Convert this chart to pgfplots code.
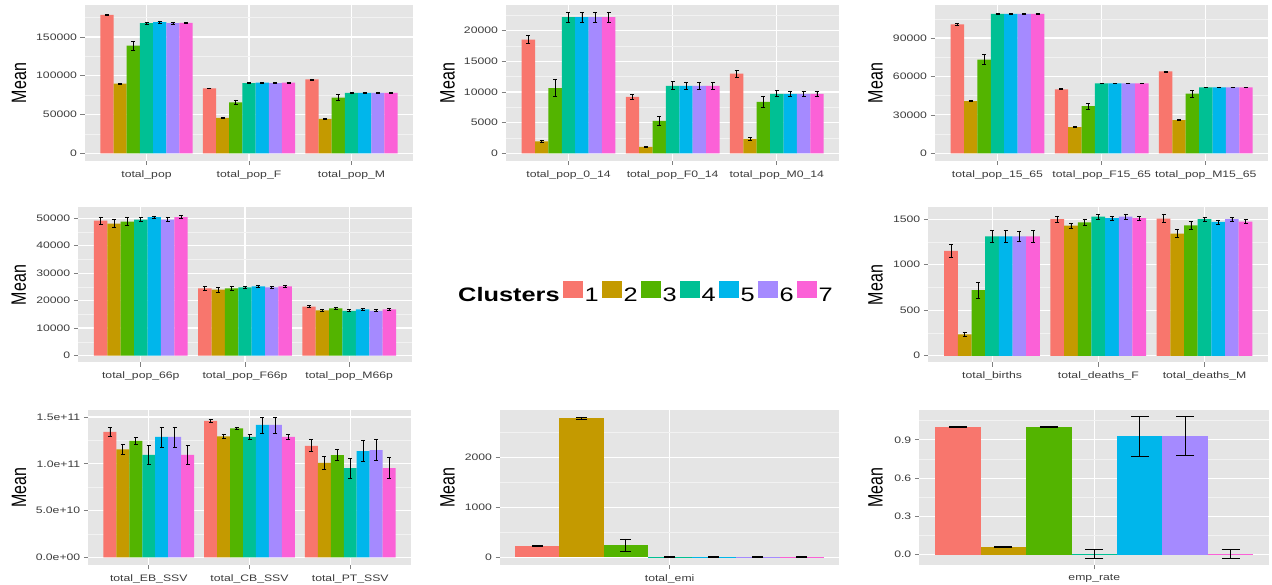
\documentclass[border=0pt]{standalone}
\usepackage{fontspec}
\setmainfont{Liberation Sans}[FakeStretch=1.3]
\newfontfamily\meanfont{Liberation Sans}
\usepackage{graphicx}
\usepackage{pgfplots}
\usepackage{pgfplotstable}
\pgfplotsset{compat=1.18}

\definecolor{c1}{HTML}{F8766D}
\definecolor{c2}{HTML}{C49A00}
\definecolor{c3}{HTML}{53B400}
\definecolor{c4}{HTML}{00C094}
\definecolor{c5}{HTML}{00B6EB}
\definecolor{c6}{HTML}{A58AFF}
\definecolor{c7}{HTML}{FB61D7}
\definecolor{ggbg}{HTML}{E5E5E5}
\definecolor{ggminor}{HTML}{F2F2F2}
\definecolor{ggtick}{HTML}{7F7F7F}
\definecolor{ggtext}{HTML}{3C3C3C}

% columns: mean and error for clusters 1..7, one row per variable
\pgfplotstableread{
m1 e1 m2 e2 m3 e3 m4 e4 m5 e5 m6 e6 m7 e7
178600 1000 90000 800 138900 5800 167800 900 169000 900 167800 900 168200 900
83800 600 45700 500 65800 3000 90600 500 91300 500 90600 500 91300 500
95300 700 44400 500 71800 3600 77800 500 77800 500 77800 500 77800 500
}\tabA
\pgfplotstableread{
m1 e1 m2 e2 m3 e3 m4 e4 m5 e5 m6 e6 m7 e7
18530 650 1960 220 10630 1360 22180 820 22180 800 22180 800 22180 800
9210 380 1040 100 5290 760 11010 650 11010 600 11010 600 11010 600
12970 540 2340 270 8390 870 9700 490 9700 450 9700 450 9700 450
}\tabB
\pgfplotstableread{
m1 e1 m2 e2 m3 e3 m4 e4 m5 e5 m6 e6 m7 e7
100600 600 40700 400 73100 3900 108900 500 108900 500 108900 500 108900 500
50000 400 20500 300 36800 2300 54700 300 54700 300 54700 300 54700 300
64000 400 25900 300 46700 2600 51600 300 51600 300 51600 300 51600 300
}\tabC
\pgfplotstableread{
m1 e1 m2 e2 m3 e3 m4 e4 m5 e5 m6 e6 m7 e7
49040 1330 47950 1500 48670 1450 49400 700 50360 400 49400 700 50360 480
24460 700 23980 850 24460 800 24820 360 25180 360 24820 360 25180 360
17830 480 16390 480 17110 360 16270 360 16750 360 16270 360 16750 360
}\tabD
\pgfplotstableread{
m1 e1 m2 e2 m3 e3 m4 e4 m5 e5 m6 e6 m7 e7
1153 70 236 18 722 88 1312 64 1312 62 1312 60 1312 62
1500 37 1430 30 1466 37 1529 26 1511 22 1529 30 1511 20
1507 44 1341 44 1433 44 1500 22 1470 22 1500 26 1474 22
}\tabE
\pgfplotstableread{
m1 e1 m2 e2 m3 e3 m4 e4 m5 e5 m6 e6 m7 e7
1.340e11 4.6e9 1.155e11 5.0e9 1.244e11 3.6e9 1.094e11 1.0e10 1.287e11 1.07e10 1.287e11 1.07e10 1.094e11 1.0e10
1.458e11 1.8e9 1.294e11 2.1e9 1.379e11 1.0e9 1.287e11 2.8e9 1.415e11 8.6e9 1.415e11 8.6e9 1.287e11 2.5e9
1.192e11 6.4e9 1.010e11 6.8e9 1.093e11 5.9e9 0.954e11 1.05e10 1.136e11 1.14e10 1.146e11 1.12e10 0.954e11 1.1e10
}\tabF
\pgfplotstableread{
m1 e1 m2 e2 m3 e3 m4 e4 m5 e5 m6 e6 m7 e7
227 5 2780 27 247 120 10 4 10 4 10 4 10 4
}\tabG
\pgfplotstableread{
m1 e1 m2 e2 m3 e3 m4 e4 m5 e5 m6 e6 m7 e7
1.0 0.002 0.063 0.004 1.0 0.002 0.005 0.034 0.929 0.157 0.929 0.154 0.006 0.034
}\tabH

\newcommand{\clusterbars}[2]{%
  \pgfplotsinvokeforeach{1,...,7}{%
    \addplot[ybar, bar width=0.128571, bar shift=0pt, fill=c##1, draw=none,
      error bars/.cd, y dir=both, y explicit, error mark=|,
      error bar style={black, line width=0.7pt},
      error mark options={black, line width=0.7pt, mark size=#2}]
      table[x expr=\coordindex+1+(##1-4)*0.128571, y=m##1, y error=e##1]{#1};
  }%
}

\pgfplotsset{
  ggpanel/.style={
    scale only axis, anchor=south west,
    axis background/.style={fill=ggbg},
    axis line style={draw=none},
    tick align=outside, tick pos=left,
    scaled y ticks=false, scaled x ticks=false,
    major tick length=4.5pt, minor tick length=0pt,
    major tick style={color=ggtick, line width=0.7pt},
    ymajorgrids, yminorgrids, xmajorgrids,
    major grid style={white, line width=1.1pt},
    minor grid style={ggminor, line width=0.5pt},
    ticklabel style={font=\fontsize{9.4}{11}\selectfont, text=ggtext},
    xticklabel style={yshift=-1.5pt},
    xtick={1,2,3},
    ylabel={\meanfont\fontsize{16}{18}\selectfont\scalebox{1}[1.3]{Mean}},
    ylabel style={anchor=center},
  },
  three/.style={xmin=0.4, xmax=3.6},
  one/.style={xmin=0.505, xmax=1.495, xtick={1}},
  meanshift/.style={ylabel style={at={([xshift=-#1]axis description cs:0,0.5)}}},
}

\begin{document}
\begin{tikzpicture}
\path[use as bounding box] (0,0) rectangle (1272pt,585pt);

% row 1
\begin{axis}[ggpanel, three, at={(85pt,424.3pt)}, width=328pt, height=155.2pt,
  ymin=-9500, ymax=190600, ytick={0,50000,100000,150000},
  yticklabels={0,50000,100000,150000}, minor ytick={25000,75000,125000,175000},
  xticklabels={total\_pop,total\_pop\_F,total\_pop\_M}, meanshift=66pt]
\clusterbars{\tabA}{2pt}
\end{axis}

\begin{axis}[ggpanel, three, at={(506pt,424.3pt)}, width=333.3pt, height=155.2pt,
  ymin=-1200, ymax=24090, ytick={0,5000,10000,15000,20000},
  yticklabels={0,5000,10000,15000,20000}, minor ytick={2500,7500,12500,17500,22500},
  xticklabels={total\_pop\_0\_14,total\_pop\_F0\_14,total\_pop\_M0\_14}, meanshift=58.5pt]
\clusterbars{\tabB}{2pt}
\end{axis}

\begin{axis}[ggpanel, three, at={(935pt,424.3pt)}, width=333.3pt, height=155.2pt,
  ymin=-5700, ymax=115400, ytick={0,30000,60000,90000},
  yticklabels={0,30000,60000,90000}, minor ytick={15000,45000,75000,105000},
  xticklabels={total\_pop\_15\_65,total\_pop\_F15\_65,total\_pop\_M15\_65}, meanshift=59.5pt]
\clusterbars{\tabC}{2pt}
\end{axis}

% row 2
\begin{axis}[ggpanel, three, at={(78.3pt,222.5pt)}, width=333.4pt, height=155pt,
  ymin=-2530, ymax=53850, ytick={0,10000,20000,30000,40000,50000},
  yticklabels={0,10000,20000,30000,40000,50000}, minor ytick={5000,15000,25000,35000,45000},
  xticklabels={total\_pop\_66p,total\_pop\_F66p,total\_pop\_M66p}, meanshift=59.5pt]
\clusterbars{\tabD}{2pt}
\end{axis}

\begin{axis}[ggpanel, three, at={(928.3pt,222.5pt)}, width=340pt, height=155pt,
  ymin=-74, ymax=1629, ytick={0,500,1000,1500},
  yticklabels={0,500,1000,1500}, minor ytick={250,750,1250},
  xticklabels={total\_births,total\_deaths\_F,total\_deaths\_M}, meanshift=52.8pt]
\clusterbars{\tabE}{2pt}
\end{axis}

% legend
\begin{axis}[at={(456pt,272pt)}, anchor=south west, scale only axis, width=400pt, height=40pt,
  hide axis, xmin=0, xmax=1, ymin=0, ymax=1, legend columns=8,
  legend style={draw=none, fill=none, at={(0,0.5)}, anchor=west,
    font=\fontsize{19.5}{21}\selectfont, inner sep=0pt,
    /tikz/every even column/.append style={column sep=1.5pt}}]
\addlegendimage{empty legend}
\addlegendentry{\textbf{Clusters}}
\addlegendimage{legend image code/.code={\fill[c1] (0pt,-2pt) rectangle (19pt,14pt);}}
\addlegendentry{1}
\addlegendimage{legend image code/.code={\fill[c2] (0pt,-2pt) rectangle (19pt,14pt);}}
\addlegendentry{2}
\addlegendimage{legend image code/.code={\fill[c3] (0pt,-2pt) rectangle (19pt,14pt);}}
\addlegendentry{3}
\addlegendimage{legend image code/.code={\fill[c4] (0pt,-2pt) rectangle (19pt,14pt);}}
\addlegendentry{4}
\addlegendimage{legend image code/.code={\fill[c5] (0pt,-2pt) rectangle (19pt,14pt);}}
\addlegendentry{5}
\addlegendimage{legend image code/.code={\fill[c6] (0pt,-2pt) rectangle (19pt,14pt);}}
\addlegendentry{6}
\addlegendimage{legend image code/.code={\fill[c7] (0pt,-2pt) rectangle (19pt,14pt);}}
\addlegendentry{7}
\end{axis}

% row 3
\begin{axis}[ggpanel, three, at={(88.3pt,20pt)}, width=322.4pt, height=155pt,
  ymin=-0.82e10, ymax=1.575e11, ytick={0,5e10,1e11,1.5e11},
  yticklabels={0.0e+00,5.0e+10,1.0e+11,1.5e+11}, minor ytick={2.5e10,7.5e10,1.25e11},
  xticklabels={total\_EB\_SSV,total\_CB\_SSV,total\_PT\_SSV}, meanshift=69.3pt]
\clusterbars{\tabF}{2pt}
\end{axis}

\begin{axis}[ggpanel, one, at={(500pt,20pt)}, width=339.3pt, height=155pt,
  ymin=-153, ymax=2947, ytick={0,1000,2000},
  yticklabels={0,1000,2000}, minor ytick={500,1500,2500},
  xticklabels={total\_emi}, meanshift=52.5pt]
\clusterbars{\tabG}{5.5pt}
\end{axis}

\begin{axis}[ggpanel, one, at={(919.3pt,20pt)}, width=350pt, height=155pt,
  ymin=-0.081, ymax=1.134, ytick={0,0.3,0.6,0.9},
  yticklabels={0.0,0.3,0.6,0.9}, minor ytick={0.15,0.45,0.75,1.05},
  xticklabels={emp\_rate}, meanshift=43.8pt]
\clusterbars{\tabH}{9pt}
\end{axis}
\end{tikzpicture}
\end{document}
